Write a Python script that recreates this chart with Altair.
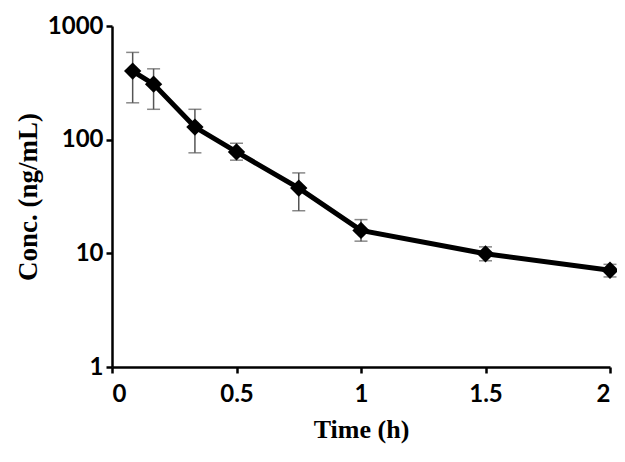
import altair as alt
import pandas as pd

time_h = [0.083, 0.167, 0.333, 0.5, 0.75, 1.0, 1.5, 2.0]
conc = [401, 308, 129, 78, 37.5, 15.9, 9.9, 7.1]
conc_hi = [586, 420, 185, 93, 51, 19.8, 11.4, 8.0]
conc_lo = [211, 185, 76.6, 66, 23.7, 12.8, 8.6, 6.2]

df = pd.DataFrame({"t": time_h, "c": conc, "hi": conc_hi, "lo": conc_lo})

yscale = alt.Scale(type="log", domain=[1, 1000], nice=False)
x = alt.X("t:Q", scale=alt.Scale(domain=[0, 2], nice=False),
          axis=alt.Axis(title="Time (h)", values=[0, 0.5, 1, 1.5, 2], format="~g",
                        titleFontSize=26))
y = alt.Y("c:Q", scale=yscale,
          axis=alt.Axis(title="Conc. (ng/mL)", values=[1, 10, 100, 1000], format="d",
                        titleFontSize=27))

base = alt.Chart(df)

rules = base.mark_rule(color="#555555", strokeWidth=1.5).encode(
    x="t:Q", y=alt.Y("lo:Q", scale=yscale), y2="hi:Q")
cap_hi = base.mark_tick(color="#555555", thickness=1.5, size=13, orient="horizontal").encode(
    x="t:Q", y=alt.Y("hi:Q", scale=yscale))
cap_lo = base.mark_tick(color="#555555", thickness=1.5, size=13, orient="horizontal").encode(
    x="t:Q", y=alt.Y("lo:Q", scale=yscale))
line = base.mark_line(color="black", strokeWidth=5).encode(x=x, y=y)
pts = base.mark_point(shape="diamond", filled=True, color="black", size=300, opacity=1).encode(x="t:Q", y="c:Q")

chart = alt.layer(rules, cap_hi, cap_lo, line, pts).properties(
    width=498, height=341,
    autosize=alt.AutoSizeParams(type="none"),
    padding={"left": 104, "top": 18, "right": 7, "bottom": 85},
).configure_view(stroke=None).configure_axis(
    grid=False,
    domainColor="black", domainWidth=2.5,
    tickColor="black", tickWidth=2.5, tickSize=6,
    labelFont="Lato", labelFontSize=24, labelColor="black", labelFontWeight="bold",
    titleFont="Liberation Serif", titleFontWeight="bold", titleColor="black",
).configure_axisX(labelPadding=9, titlePadding=10).configure_axisY(labelPadding=3, titlePadding=5)

chart.save("out.html", embed_options={"renderer": "svg", "actions": False})
